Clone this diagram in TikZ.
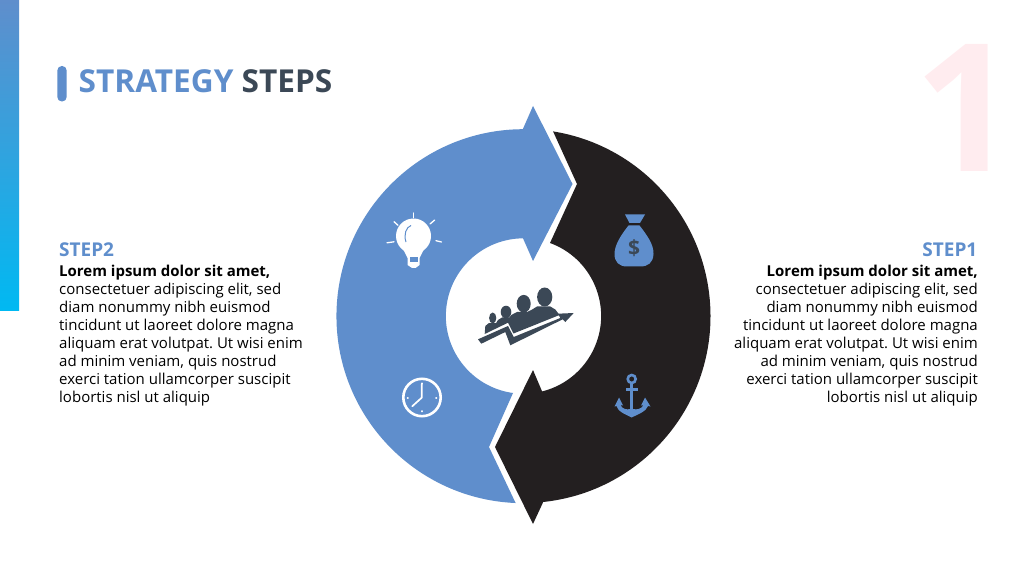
\documentclass[tikz,border=0pt]{standalone}
\usepackage{fontspec}
\setmainfont{Open Sans}
\frenchspacing
\definecolor{bluea}{HTML}{5F8ECC}
\definecolor{blacka}{HTML}{231F20}
\definecolor{slatea}{HTML}{3B4856}
\definecolor{pinka}{HTML}{FFECEF}
\definecolor{cyana}{HTML}{00B9F2}
\tikzset{
  x=1pt,y=1pt,
  para/.style={inner sep=0pt,font=\fontsize{15}{18}\selectfont,text=black},
  stephead/.style={inner sep=0pt,font=\fontsize{19}{18}\selectfont\bfseries,text=bluea},
  ray/.style={white,line width=1.3pt,line cap=round},
  tick/.style={white,line width=1.8pt,line cap=round},
}
\begin{document}
\begin{tikzpicture}
\useasboundingbox (0,0) rectangle (1024,576);
\fill[white] (0,0) rectangle (1024,576);
% side bar
\shade[top color=bluea,bottom color=cyana] (0,576) rectangle (19,265);
% big number
\node[inner sep=0pt,anchor=base,text=pinka,font=\fontsize{178}{178}\selectfont\bfseries] (num) at (965,404) {1};
% title
\fill[bluea,rounded corners=4.5pt] (57.3,510) rectangle (66.7,474.5);
\node[inner sep=0pt,anchor=base west,font=\fontsize{31.6}{36}\selectfont\bfseries] (title) at (78.5,483.5) {\textcolor{bluea}{STRATEGY} \textcolor{slatea}{STEPS}};
% blue arrow
\fill[bluea] (533,470) -- (522.8,446.8) arc[start angle=90.2,end angle=267.6,radius=187]
  -- (489,129) -- (513,183) arc[start angle=262.2,end angle=90.4,radius=77.7]
  -- (533,315) -- (572.5,392) -- cycle;
% black arrow
\fill[blacka] (533,52) -- (543.2,74) arc[start angle=-83.95,end angle=80.9,radius=187]
  -- (577,392) -- (550,333) arc[start angle=70,end angle=-76.1,radius=77.7]
  -- (533,206) -- (495,129) -- cycle;
% bulb
\fill[white] (413.5,340) circle[radius=17.5];
\fill[white] (402,329) -- (425,329) -- (419.5,318) -- (419.5,311) -- (415.5,308) -- (412,308) -- (407.5,311) -- (407.5,318) -- cycle;
\fill[bluea] (409.5,318.5) rectangle (418,313.5);
\draw[bluea,line width=1pt] (406,334) .. controls (403.5,341) and (406,349) .. (411,350.5);
\draw[ray] (413.3,363) -- (413.3,358.5);
\draw[ray] (394,354.3) -- (398,350.7);
\draw[ray] (430,352) -- (434.7,356);
\draw[ray] (387,333.2) -- (394,334.2);
\draw[ray] (436,335.3) -- (441.5,334);
% clock
\draw[white,line width=2.6pt] (422,178.5) circle[radius=18.7];
\draw[white,line width=1.7pt,line cap=round,line join=round] (421.7,192) -- (421.7,178.3) -- (412.2,169.7);
\draw[tick] (421.7,192.7) -- (421.7,192.2);
\draw[tick] (421.7,165) -- (421.7,164.5);
\draw[tick] (407.5,178.3) -- (408,178.3);
\draw[tick] (436,178.3) -- (436.5,178.3);
% money bag
\fill[bluea] (625,361.5) -- (645,361.5) -- (640,353) -- (629.5,353) -- cycle;
\fill[bluea] (628.5,350.5) -- (639.5,350.5) .. controls (647,341) and (654,331) .. (653.5,322)
  .. controls (653,313) and (648,309.5) .. (640,309.5) -- (627,309.5)
  .. controls (619,309.5) and (614.5,314) .. (614.5,322)
  .. controls (614.5,331) and (621,341) .. (628.5,350.5) -- cycle;
\node[inner sep=0pt,text=slatea,font=\fontsize{21}{21}\selectfont\bfseries] (dollar) at (634,328) {\$};
% anchor
\draw[bluea,line width=2.6pt] (631.7,197) circle[radius=4];
\draw[bluea,line width=2.6pt] (631.7,192.5) -- (631.7,163);
\draw[bluea,line width=2.4pt] (626,186.7) -- (638,186.7);
\fill[bluea] (614.5,169.5) -- (619,178.5) -- (623,170.5) -- (620.5,171)
  .. controls (622,167) and (627,166) .. (630,167) -- (633,167)
  .. controls (637,166) and (641.5,167) .. (643.5,171) -- (641,170.5) -- (645,178.5) -- (650.5,169.5) -- (648,170)
  .. controls (646,164) and (638,162) .. (631.7,158.5)
  .. controls (625,162) and (618,164) .. (616.5,170) -- cycle;
% group with arrow
\fill[slatea] (544.7,279) ellipse[x radius=7.6,y radius=9.5];
\fill[slatea] (523.7,272.3) ellipse[x radius=7,y radius=8.8];
\fill[slatea] (506,264) ellipse[x radius=5.3,y radius=6.3];
\fill[slatea] (492.7,258) ellipse[x radius=3.6,y radius=5.5];
\fill[slatea] (484.7,242) -- (485.3,250) -- (488.7,252.8) -- (496,252.8) -- (498,256)
  -- (502,258.5) -- (509.3,258.5) -- (511.3,261) -- (517,264) -- (527,264) -- (531.3,266)
  -- (537,269.5) -- (550.3,269.5) -- (555.3,266.5) -- (559.5,261) -- (513.5,242.5) -- (508,253.3) -- cycle;
\fill[slatea] (478,236.7) -- (508,250) -- (513.7,239) -- (560.3,258) -- (558,262.3) -- (573.7,263)
  -- (565.3,254) -- (562.7,256.7) -- (510.3,230.7) -- (505.3,244) -- (481.3,232.3) -- cycle;
% texts
\node[stephead,anchor=base west] (s2) at (59,319.3) {STEP2};
\node[para,anchor=north west,align=left] (t2) at (59,311.5) {\textbf{Lorem ipsum dolor sit amet,}\\consectetuer adipiscing elit, sed\\diam nonummy nibh euismod\\tincidunt ut laoreet dolore magna\\aliquam erat volutpat. Ut wisi enim\\ad minim veniam, quis nostrud\\exerci tation ullamcorper suscipit\\lobortis nisl ut aliquip};
\node[stephead,anchor=base east] (s1) at (977.5,319.3) {STEP1};
\node[para,anchor=north east,align=right] (t1) at (978,311.5) {\textbf{Lorem ipsum dolor sit amet,}\\consectetuer adipiscing elit, sed\\diam nonummy nibh euismod\\tincidunt ut laoreet dolore magna\\aliquam erat volutpat. Ut wisi enim\\ad minim veniam, quis nostrud\\exerci tation ullamcorper suscipit\\lobortis nisl ut aliquip};
\end{tikzpicture}
\end{document}
